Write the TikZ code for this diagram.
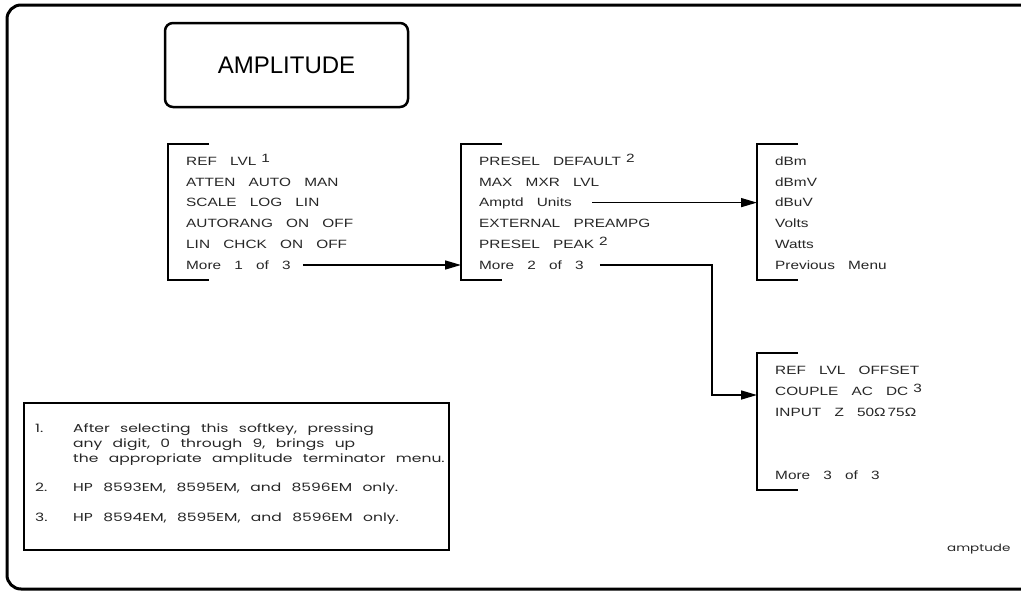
\documentclass[tikz,border=0pt]{standalone}
\usepackage{fontspec}
\usepackage{xcolor}
\usepackage{tikz}
\usetikzlibrary{arrows.meta,positioning}

\newfontfamily\keyfont[FakeStretch=1.28,WordSpace=3.1]{Liberation Sans}
\newfontfamily\notefont[FakeStretch=1.35,WordSpace=2.5]{Poppins}
\newfontfamily\titlefont{Liberation Sans}
\newcommand\footmark[1]{\hspace{5pt}\raisebox{3pt}{#1}}
\newcommand\menubracket[3]{\draw[bracket] (#1+41,#2) -- (#1,#2) -- (#1,#3) -- (#1+41,#3);}

\tikzset{
    softkey/.style={anchor=west, inner sep=0pt, text height=8.5pt, text depth=0pt,
        text=black!85, font=\keyfont\fontsize{12}{12}\selectfont},
    note/.style={anchor=west, inner sep=0pt, text height=8pt, text depth=0pt,
        text=black!85, font=\notefont\fontsize{11.5}{15}\selectfont},
    bracket/.style={line width=2.5pt},
    menuarrow/.style={line width=1.5pt, -{Triangle[length=16pt,width=9pt]}},
}

\begin{document}
\begin{tikzpicture}[x=1pt, y=-1pt]
    \useasboundingbox (0,0) rectangle (1021,592);

    % frame and title
    \draw[line width=3pt, rounded corners=14pt] (7,5) rectangle (1045,589);
    \node[draw, line width=2.5pt, rounded corners=8pt, minimum width=243pt, minimum height=84pt,
        font=\titlefont\fontsize{24}{24}\selectfont] (title) at (286.5,65) {AMPLITUDE\hspace{18pt}};

    % bracket positions
    \coordinate (b1) at (168,0);
    \coordinate (b2) at (461,0);
    \coordinate (b3) at (757,0);
    \coordinate (b4) at (757,395);
    \coordinate (turn) at (712,0);

    \menubracket{168}{144}{280}
    \menubracket{461}{144}{280}
    \menubracket{757}{144}{280}
    \menubracket{757}{353}{490}

    % menu 1 of 3
    \foreach \key [count=\i] in {REF\ LVL\footmark{1}, ATTEN\ AUTO\ MAN, SCALE\ LOG\ LIN,
        AUTORANG\ ON\ OFF, LIN\ CHCK\ ON\ OFF, More\ 1\ of\ 3}
        \node[softkey] (ampl\i) at (186,161+20.8*\i-20.8) {\key};

    % menu 2 of 3
    \foreach \key [count=\i] in {PRESEL\ DEFAULT\footmark{2}, MAX\ MXR\ LVL, Amptd\ Units,
        EXTERNAL\ PREAMPG, PRESEL\ PEAK\footmark{2}, More\ 2\ of\ 3}
        \node[softkey] (more\i) at (479,161+20.8*\i-20.8) {\key};

    % units menu
    \foreach \key [count=\i] in {dBm, dBmV, dBuV, Volts, Watts, Previous\ Menu}
        \node[softkey] (units\i) at (775,161+20.8*\i-20.8) {\key};

    % menu 3 of 3
    \node[softkey] (third1) at (775,370) {REF LVL OFFSET};
    \node[softkey] (third2) at (775,391) {COUPLE AC DC\footmark{3}};
    \node[softkey] (third3) at (775,412) {INPUT Z 50Ω\,75Ω};
    \node[softkey] (third6) at (775,475) {More 3 of 3};

    % connectors
    \draw[menuarrow] ([xshift=12pt]ampl6.east) -- (ampl6.east -| b2);
    \draw[menuarrow] ([xshift=20pt]more3.east) -- (more3.east -| b3);
    \draw[menuarrow] ([xshift=16pt]more6.east) -| (turn |- b4) -- (b4);

    % notes
    \draw[line width=2pt] (24,403) rectangle (449,550);
    \node[note] (num1) at (35,428) {1.};
    \node[note] (note1a) at (73,428) {After selecting this softkey, pressing};
    \node[note] (note1b) at (73,443) {any digit, 0 through 9, brings up};
    \node[note] (note1c) at (73,458) {the appropriate amplitude terminator menu.};
    \node[note] (num2) at (35,487) {2.};
    \node[note] (note2) at (73,487) {HP 8593EM, 8595EM, and 8596EM only.};
    \node[note] (num3) at (35,517) {3.};
    \node[note] (note3) at (73,517) {HP 8594EM, 8595EM, and 8596EM only.};

    \node[note, font=\notefont\fontsize{10}{10}\selectfont] (figname) at (947,547) {amptude};
\end{tikzpicture}
\end{document}
